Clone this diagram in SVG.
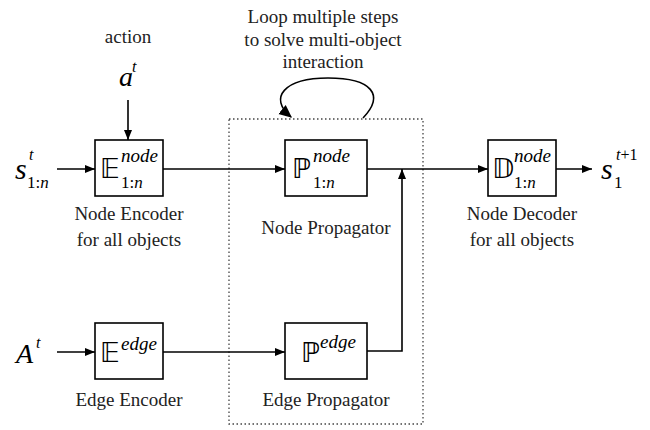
<svg xmlns="http://www.w3.org/2000/svg" width="650" height="430" viewBox="0 0 650 430" font-family="'Liberation Serif', serif">
<style>
.box{fill:#fff;stroke:#000;stroke-width:1.6}
.ln{fill:none;stroke:#000;stroke-width:1.6}
.lbl{font-family:'Liberation Serif', serif;font-size:19px;fill:#222;text-anchor:middle}
.m{font-family:'Liberation Serif', serif;fill:#000}
.it{font-style:italic}
.ds{font-family:'DejaVu Sans', sans-serif;font-size:27px;fill:#000}
</style>
<defs>
<marker id="ah" viewBox="0 0 10 10" refX="10" refY="5" markerWidth="10" markerHeight="10" markerUnits="userSpaceOnUse" orient="auto">
<path d="M0,1 L10,5 L0,9 z" fill="#000"/>
</marker>
<marker id="ah2" viewBox="0 0 10 10" refX="9" refY="5" markerWidth="13" markerHeight="13" markerUnits="userSpaceOnUse" orient="auto">
<path d="M0,0.5 L10,5 L0,9.5 z" fill="#000"/>
</marker>
</defs>
<rect x="229" y="119" width="194" height="305" fill="none" stroke="#444" stroke-width="1.3" stroke-dasharray="1.5,2.5"/>
<g id="connectors">
<path class="ln" d="M57,169 H95" marker-end="url(#ah)"/>
<path class="ln" d="M128,100 V140" marker-end="url(#ah)"/>
<path class="ln" d="M163,169 H285" marker-end="url(#ah)"/>
<path class="ln" d="M367,169 H488" marker-end="url(#ah)"/>
<path class="ln" d="M556,169 H592" marker-end="url(#ah)"/>
<path class="ln" d="M57,352 H95" marker-end="url(#ah)"/>
<path class="ln" d="M163,352 H285" marker-end="url(#ah)"/>
<path class="ln" d="M367,351 H402 V169" marker-end="url(#ah)"/>
<path class="ln" stroke-width="2.6" d="M363,118 C385,95 372,78 328,78 C284,78 268,98 291,117" marker-end="url(#ah2)"/>
</g>
<g id="loop-label">
<text class="lbl" x="323" y="23">Loop multiple steps</text>
<text class="lbl" x="323" y="46">to solve multi-object</text>
<text class="lbl" x="323" y="68">interaction</text>
</g>
<g id="action">
<text class="lbl" x="128" y="43">action</text>
<text class="m it" x="119" y="86" font-size="28">a</text>
<text class="m it" x="132" y="72" font-size="16">t</text>
</g>
<g id="input-s">
<text class="m it" x="15" y="179" font-size="30">s</text>
<text class="m it" x="29" y="160" font-size="16">t</text>
<text class="m" x="27" y="188" font-size="17">1:<tspan font-style="italic">n</tspan></text>
</g>
<g id="input-A">
<text class="m it" x="16" y="363" font-size="28">A</text>
<text class="m it" x="36" y="348" font-size="16">t</text>
</g>
<g id="node-encoder">
<rect class="box" x="95" y="140" width="68" height="56"/>
<text class="ds" x="100" y="178">𝔼</text>
<text class="m it" x="121" y="162" font-size="19">node</text>
<text class="m" x="121" y="188" font-size="17">1:<tspan font-style="italic">n</tspan></text>
<text class="lbl" x="129" y="220">Node Encoder</text>
<text class="lbl" x="129" y="246">for all objects</text>
</g>
<g id="edge-encoder">
<rect class="box" x="95" y="323" width="68" height="56"/>
<text class="ds" x="100" y="362">𝔼</text>
<text class="m it" x="121" y="350" font-size="19">edge</text>
<text class="lbl" x="129" y="406">Edge Encoder</text>
</g>
<g id="node-propagator">
<rect class="box" x="285" y="140" width="82" height="56"/>
<text class="ds" x="292" y="178">ℙ</text>
<text class="m it" x="313" y="162" font-size="19">node</text>
<text class="m" x="313" y="188" font-size="17">1:<tspan font-style="italic">n</tspan></text>
<text class="lbl" x="326" y="234">Node Propagator</text>
</g>
<g id="edge-propagator">
<rect class="box" x="285" y="323" width="82" height="56"/>
<text class="ds" x="301" y="362">ℙ</text>
<text class="m it" x="320" y="348" font-size="19">edge</text>
<text class="lbl" x="326" y="406">Edge Propagator</text>
</g>
<g id="node-decoder">
<rect class="box" x="488" y="140" width="68" height="56"/>
<text class="ds" x="492" y="178">𝔻</text>
<text class="m it" x="514" y="162" font-size="19">node</text>
<text class="m" x="514" y="188" font-size="17">1:<tspan font-style="italic">n</tspan></text>
<text class="lbl" x="522" y="220">Node Decoder</text>
<text class="lbl" x="522" y="246">for all objects</text>
</g>
<g id="output-s">
<text class="m it" x="601" y="179" font-size="30">s</text>
<text class="m" x="614" y="188" font-size="17">1</text>
<text class="m it" x="616" y="160" font-size="16">t<tspan font-style="normal">+1</tspan></text>
</g>
</svg>
